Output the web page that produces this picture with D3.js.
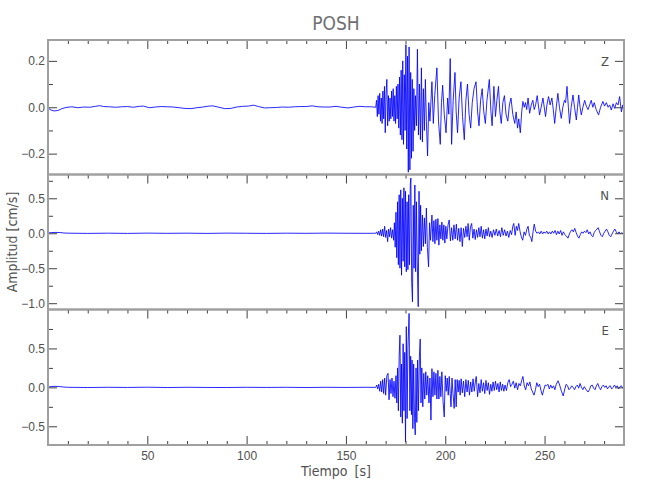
<!DOCTYPE html>
<html>
<head>
<meta charset="utf-8">
<script src="https://cdn.jsdelivr.net/npm/d3@7"></script>
<style>
  body { margin: 0; background: #fff; }
  svg { display: block; font-family: "Liberation Sans Narrow", "DejaVu Sans Condensed", "Roboto Condensed", sans-serif; }
</style>
</head>
<body>
<svg id="chart" width="650" height="500"></svg>
<script>
const station = "POSH";
const components = ["Z", "N", "E"];
const yDomains = [[-0.29, 0.29], [-1.09, 0.84], [-0.74, 1.0]];
const yMajor = [[-0.2, 0, 0.2], [-1.0, -0.5, 0, 0.5], [-0.5, 0, 0.5]];
const yMinor = [[-0.1, 0.1], [-0.75, -0.25, 0.25, 0.75], [-0.25, 0.25, 0.75]];
const xMajor = [50, 100, 150, 200, 250];
const xMinor = [10, 20, 30, 40, 60, 70, 80, 90, 110, 120, 130, 140, 160, 170, 180, 190, 210, 220, 230, 240, 260, 270, 280];

// [tiempo s, amplitud cm/s]
const zTrace = [
  [0,-0.003],[1.5,-0.012],[3,-0.016],[5,-0.014],[7,-0.006],[9,-0.001],[12,0.002],[15,-0.002],[18,0.001],[21,0],[24,0.004],[26,0.007],
  [28,0.003],[31,0.002],[34,0],[37,0.002],[40,0.003],[43,0],[46,0.004],[48,0.005],[51,-0.002],[54,0.001],[57,0.003],[60,0.002],
  [63,0.001],[66,-0.002],[69,-0.005],[72,-0.006],[75,-0.002],[78,0.001],[81,0.005],[83,0.006],[86,0],[89,-0.006],[92,-0.005],
  [95,0.001],[98,0.004],[101,0.005],[103.5,0.009],[106,0.003],[109,-0.003],[112,-0.002],[115,-0.001],[118,0.001],[121,0],
  [124,0.002],[127,0.003],[130,0.003],[133,0.006],[136,0.002],[139,0.001],[142,0.001],[145,0.004],[148,0],[151,-0.003],
  [154,0.001],[157,0.004],[160,0.002],[163,0.002],[164.6,0],
  [165.0,0.00],[165.4,0.03],[165.8,-0.04],[166.2,0.05],[166.6,-0.03],[167.0,0.06],[167.4,-0.06],[167.8,0.04],[168.2,-0.07],
  [168.6,0.07],[169.0,-0.05],[169.4,0.09],[169.8,-0.11],[170.2,0.06],[170.6,0.12],[171.0,-0.08],[171.4,0.05],[171.8,-0.06],
  [172.2,0.04],[172.6,-0.05],[173.0,0.07],[173.4,-0.04],[173.8,0.08],[174.2,-0.06],[174.6,0.05],[175.0,-0.07],[175.4,0.09],
  [175.8,-0.05],[176.2,0.10],[176.6,-0.09],[177.0,0.13],[177.4,-0.12],[177.8,0.16],[178.2,-0.14],[178.6,0.20],[179.0,-0.16],
  [179.4,0.14],[179.8,-0.10],[180.2,0.27],[180.6,-0.18],[181.0,0.22],[181.4,-0.28],[181.8,0.26],[182.2,-0.27],[182.6,0.15],
  [183.0,-0.22],[183.4,0.12],[183.8,-0.19],[184.2,0.08],[184.6,-0.10],[185.0,0.05],[185.5,-0.08],[186.0,0.25],[186.5,-0.12],
  [187.0,0.10],[187.5,-0.14],[188.0,0.17],[188.5,-0.15],[189.0,0.08],[189.5,-0.10],[190.0,0.12],[190.5,-0.06],[191.1,-0.21],
  [191.7,0.02],[192.3,-0.06],[193.3,0.11],[194.0,-0.07],[194.7,0.05],[195.8,0.17],[196.6,-0.06],[197.5,-0.16],[198.1,0.02],
  [198.7,0.095],[199.5,-0.03],[200.4,-0.11],[201.2,0.04],[201.8,-0.03],[202.5,0.21],[203.2,-0.16],[204.0,0.03],[204.9,0.15],
  [205.5,-0.02],[206.2,-0.11],[207.0,0.04],[207.9,0.11],[208.7,-0.04],[209.6,-0.14],[210.4,0.03],[211.2,0.10],[212.0,-0.03],
  [212.8,-0.09],[213.6,0.02],[214.5,0.08],[215.5,0.11],[216.3,-0.02],[217.0,-0.08],[217.8,0.03],[218.6,0.08],[219.4,-0.02],
  [220.2,-0.07],[221.0,0.03],[222.2,0.12],[223.0,-0.02],[223.6,-0.08],[224.5,0.09],[225.3,-0.04],[226.0,0.03],[226.8,0.09],
  [227.5,-0.02],[228.2,-0.07],[229.0,0.02],[229.8,0.05],[230.6,-0.03],[231.5,-0.06],[232.3,0.01],[233.1,0.04],[234.0,-0.03],
  [235.0,-0.07],[235.7,-0.02],[236.4,-0.09],[237.0,-0.05],[237.8,-0.11],
  [238.5,-0.02],[239.1,0.025],[239.8,0.0],[240.4,0.02],[241.0,-0.01],[241.7,0.04],[242.5,-0.026],[243.3,0.01],[244.1,0.03],
  [244.8,-0.01],[245.5,0.01],[246.3,0.05],[247.5,-0.033],[248.3,0.0],[249.2,0.04],[250.5,-0.04],[251.2,0.01],[252.0,0.046],
  [252.8,0.01],[253.7,0.04],[254.4,-0.01],[255.1,-0.07],[255.9,0.0],[256.7,0.06],[257.5,0.0],[258.4,-0.048],[259.2,0.0],
  [260.0,0.03],[260.6,0.02],[261.3,0.09],[262.0,0.0],[262.6,-0.07],[263.4,0.0],[264.3,0.053],[265.1,0.0],[266.0,-0.055],
  [266.6,0.0],[267.2,0.053],[267.9,0.0],[268.5,-0.033],[269.3,0.0],[270.2,0.03],[271.0,0.005],[271.9,-0.01],[272.7,0.01],
  [273.5,0.03],[274.3,0.0],[275.0,0.02],[276.0,-0.01],[277.2,-0.033],[278.2,0.0],[279.4,0.025],[280.2,0.005],[281.1,0.02],
  [282.0,0.0],[282.8,0.01],[283.6,-0.012],[284.5,0.015],[285.3,-0.005],[286.2,0.02],[287.0,0.01],[287.8,0.046],[288.7,-0.02],
  [289.4,0.01],[290.0,0.0]
];

const nTrace = [
  [0,0.004],[2,0.010],[4,0.012],[6,0.010],[8,0.004],[10,0.001],[20,-0.002],[30,0.001],[40,-0.002],[50,0.002],[60,-0.001],
  [70,0.001],[80,-0.002],[90,0.002],[100,0],[110,-0.002],[120,0.001],[130,-0.001],[140,0.002],[150,0],[160,-0.001],[164.6,0],
  [165.0,0.00],[165.5,0.02],[166.0,-0.02],[166.5,0.03],[167.0,-0.03],[167.5,0.05],[168.0,-0.04],[168.5,0.06],[169.0,-0.05],
  [169.5,0.10],[170.0,-0.06],[170.5,0.04],[171.0,-0.12],[171.5,0.06],[172.0,-0.05],[172.5,0.08],[173.0,-0.07],[173.5,0.05],
  [174.0,-0.10],[174.4,0.15],[174.8,-0.20],[175.2,0.30],[175.6,-0.35],[176.0,0.45],[176.4,-0.45],[176.8,0.55],[177.2,-0.50],
  [177.6,0.62],[178.0,-0.60],[178.4,0.50],[178.8,-0.40],[179.2,0.65],[179.6,-0.48],[180.0,0.60],[180.4,-0.55],[180.8,0.45],
  [181.2,-0.52],[181.6,0.55],[182.0,-0.45],[182.4,0.70],[182.7,0.79],[183.1,-0.70],[183.5,-0.98],[183.9,0.40],[184.3,-0.50],
  [184.7,0.69],[185.1,-0.55],[185.5,0.45],[185.9,-0.40],[186.4,-1.05],[186.8,0.60],[187.2,-0.30],[187.6,0.40],[188.0,-0.25],
  [188.5,0.26],[189.0,-0.19],[189.5,0.22],[190.0,-0.15],[190.5,0.36],[191.0,-0.20],[191.6,-0.48],[192.1,0.15],[192.6,-0.10],
  [193.3,0.26],[193.8,-0.12],[194.3,0.18],[194.8,-0.15],[195.3,0.20],[195.8,-0.10],[196.3,0.21],[196.8,-0.17],[197.3,0.12],
  [197.8,-0.08],[198.3,0.16],[198.8,-0.10],[199.3,0.12],[199.8,-0.14],[200.3,0.10],[200.8,-0.08],[201.4,0.12],[202.0,0.19],
  [202.6,-0.11],[203.2,0.08],[203.8,-0.10],[204.4,0.12],[205.0,-0.08],[205.6,0.13],[206.2,-0.10],[206.8,0.07],[207.4,-0.12],
  [208.0,0.08],[208.6,-0.19],[209.2,0.07],[209.8,-0.06],[210.4,0.10],[211.0,-0.05],[211.5,0.14],[212.1,-0.10],[212.7,0.09],
  [213.3,0.14],[213.9,-0.07],[214.5,0.06],[215.1,-0.09],[215.7,0.05],[216.3,-0.06],[216.9,0.08],[217.5,-0.05],[218.1,0.10],
  [218.7,-0.07],[219.3,0.05],[219.9,-0.08],[220.5,0.06],[221.1,-0.04],[221.7,0.08],[222.3,-0.05],[222.9,0.03],[223.6,-0.06],
  [224.3,0.05],[225.0,-0.03],[225.7,0.06],[226.4,-0.04],[227.1,0.04],[227.8,-0.05],[228.5,0.08],[229.2,-0.03],[229.9,0.05],
  [230.6,-0.04],[231.3,0.03],[232.0,-0.06],[232.7,0.04],[233.4,-0.02],[234.0,0.10],[234.5,0.14],[235.2,-0.03],[235.8,0.10],
  [236.4,0.04],[237.0,0.14],[237.7,0.02],[238.3,-0.05],[239.0,-0.10],[239.7,0.02],[240.4,-0.03],[241.0,0.05],[241.7,0.10],
  [242.4,-0.04],[243.0,-0.05],[243.6,-0.12],[244.2,0.02],[244.8,0.13],[245.5,0.03],[246.2,0.00],[246.9,0.02],[247.6,-0.01],
  [248.3,0.03],[249.0,-0.01],[249.7,0.02],[250.4,0.00],[251.1,0.03],[251.8,-0.01],[252.5,0.02],[253.2,-0.01],[253.9,0.03],
  [254.6,0.00],[255.3,0.04],[256.0,-0.02],[256.7,0.03],[257.4,-0.01],[258.1,0.04],[258.8,-0.03],[259.5,0.02],[260.2,-0.02],
  [261.0,-0.04],[261.8,-0.07],[262.5,-0.01],[263.2,0.03],[263.8,0.05],[264.5,0.02],[265.2,0.07],[265.9,0.01],[266.6,-0.04],
  [267.3,-0.07],[268.0,-0.02],[268.7,0.02],[269.4,0.00],[270.1,0.03],[270.8,0.01],[271.5,0.05],[272.2,-0.01],[272.9,0.02],
  [273.6,-0.03],[274.3,-0.05],[275.0,0.01],[275.7,0.04],[276.4,0.06],[277.0,0.08],[277.7,0.02],[278.4,-0.03],[279.1,-0.05],
  [279.8,0.00],[280.5,0.03],[281.2,0.06],[281.9,0.02],[282.6,-0.03],[283.3,-0.05],[284.0,-0.01],[284.7,0.03],[285.4,0.06],
  [286.1,0.02],[286.8,-0.01],[287.5,0.02],[288.2,-0.01],[288.9,0.01],[289.6,-0.01],[290.0,0.00]
];

const eTrace = [
  [0,0.004],[2,0.012],[4,0.013],[6,0.010],[8,0.004],[10,0.001],[20,-0.002],[30,0.001],[40,-0.001],[50,0.002],[60,-0.002],
  [70,0.001],[80,-0.001],[90,-0.002],[100,0.001],[110,-0.001],[120,0.001],[130,-0.002],[140,0.001],[150,-0.001],[160,0.001],[164.6,0],
  [165.0,0.00],[165.5,0.03],[166.0,-0.02],[166.5,0.04],[167.0,-0.05],[167.5,0.08],[168.0,-0.06],[168.5,0.10],[169.0,-0.08],
  [169.5,0.12],[170.0,-0.10],[170.6,0.15],[171.2,0.18],[171.7,-0.16],[172.2,0.10],[172.7,-0.08],[173.2,0.12],[173.7,-0.12],
  [174.2,0.08],[174.7,-0.14],[175.2,0.15],[175.6,-0.20],[176.0,0.25],[176.4,-0.30],[176.8,0.40],[177.2,0.67],[177.6,-0.38],
  [178.0,0.30],[178.4,-0.46],[178.8,0.56],[179.2,-0.30],[179.6,0.45],[180.0,-0.70],[180.4,0.78],[180.8,-0.40],[181.2,0.50],
  [181.8,0.95],[182.2,-0.30],[182.6,0.40],[183.0,-0.35],[183.3,0.35],[183.7,-0.53],[184.1,0.30],[184.5,-0.40],[184.9,-0.61],
  [185.3,0.25],[185.7,-0.45],[186.1,0.35],[186.5,-0.30],[187.0,0.40],[187.4,0.62],[187.8,-0.20],[188.2,0.25],[188.7,-0.25],
  [189.2,0.18],[189.7,-0.15],[190.2,0.20],[190.7,-0.10],[191.2,0.15],[191.8,-0.20],[192.3,0.12],[192.8,-0.42],[193.3,0.24],
  [193.8,-0.12],[194.3,0.20],[194.8,-0.10],[195.3,0.18],[195.8,-0.15],[196.3,0.22],[196.8,-0.15],[197.3,0.14],[197.8,-0.12],
  [198.3,0.20],[198.9,-0.18],[199.5,-0.38],[200.0,0.15],[200.5,-0.05],[201.0,0.12],[201.5,-0.10],[202.0,0.14],[202.5,-0.08],
  [202.9,-0.25],[203.4,0.12],[203.9,-0.08],[204.5,-0.27],[205.0,0.10],[205.5,-0.25],[206.0,0.10],[206.5,-0.06],[207.0,0.09],
  [207.5,-0.10],[208.0,0.11],[208.6,-0.07],[209.2,0.08],[209.8,-0.12],[210.4,0.10],[211.0,-0.06],[211.6,0.09],[212.2,-0.10],
  [212.8,0.07],[213.4,-0.06],[214.0,0.11],[214.6,-0.05],[215.2,0.08],[215.6,0.14],[216.3,-0.12],[216.9,0.05],[217.5,-0.07],
  [218.1,0.10],[218.7,-0.05],[219.3,0.06],[219.9,-0.08],[220.5,0.09],[221.1,-0.04],[221.7,0.06],[222.3,-0.09],[222.9,0.04],
  [223.5,-0.05],[224.1,0.07],[224.7,-0.04],[225.3,0.08],[225.9,-0.03],[226.5,0.05],[227.1,-0.06],[227.7,0.07],[228.3,-0.04],
  [228.9,0.04],[229.5,-0.05],[230.1,0.03],[230.8,-0.04],[231.5,0.06],[232.2,0.10],[232.9,0.01],[233.6,0.04],[234.3,0.08],
  [235.0,-0.01],[235.7,0.06],[236.4,-0.03],[237.1,0.05],[237.8,0.02],[238.5,0.09],[239.1,0.14],[239.8,0.02],[240.5,-0.03],
  [241.2,0.06],[241.9,0.02],[242.6,0.07],[243.3,-0.02],[244.0,-0.06],[244.7,-0.10],[245.4,-0.03],[246.1,0.06],[246.8,0.01],
  [247.5,0.04],[248.2,-0.04],[248.9,-0.10],[249.6,-0.03],[250.3,0.03],[251.0,0.02],[251.7,0.04],[252.4,-0.02],[253.1,0.03],
  [253.8,-0.01],[254.5,0.02],[255.2,-0.03],[255.9,0.04],[256.8,0.085],[257.6,0.03],[258.5,-0.05],[259.4,-0.11],[260.2,-0.02],
  [260.9,0.04],[261.6,0.02],[262.3,-0.03],[263.0,-0.01],[263.7,0.02],[264.4,0.00],[265.1,-0.03],[265.8,0.01],[266.5,0.03],
  [267.2,-0.01],[267.9,0.05],[268.6,0.00],[269.3,-0.03],[270.0,0.01],[270.7,-0.02],[271.9,-0.06],[272.6,-0.03],[273.3,0.02],
  [274.0,0.03],[274.7,-0.01],[275.4,-0.03],[276.1,0.02],[276.8,0.05],[277.5,0.00],[278.2,-0.03],[278.9,0.01],[279.6,0.03],
  [280.3,0.00],[281.0,0.02],[281.7,-0.02],[282.4,0.01],[283.1,0.02],[283.8,-0.02],[284.5,0.00],[285.2,0.03],[285.9,0.00],
  [286.6,0.02],[287.3,-0.02],[288.0,0.01],[288.7,0.02],[289.4,-0.01],[290.0,0.00]
];
const traces = [zTrace, nTrace, eTrace];

const svg = d3.select("#chart");
const left = 48, right = 624;
const edges = [40, 174.5, 309.5, 445];
const frameColor = "#a0a0a0";
const textColor = "#505050";

const x = d3.scaleLinear().domain([0, 290]).range([left, right]);

svg.append("text")
  .attr("x", 336).attr("y", 30)
  .attr("text-anchor", "middle")
  .style("font-size", "19px")
  .style("fill", "#707070")
  .text(station);

components.forEach((comp, i) => {
  const top = edges[i], bottom = edges[i + 1];
  const y = d3.scaleLinear().domain(yDomains[i]).range([bottom, top]);
  const g = svg.append("g");

  g.append("clipPath").attr("id", "clip" + i)
    .append("rect")
    .attr("x", left).attr("y", top)
    .attr("width", right - left).attr("height", bottom - top);

  const line = d3.line().x(d => x(d[0])).y(d => y(d[1]));
  g.append("path")
    .datum(traces[i])
    .attr("clip-path", `url(#clip${i})`)
    .attr("fill", "none")
    .attr("stroke", "#0000ff")
    .attr("stroke-width", 0.85)
    .attr("stroke-linejoin", "round")
    .attr("d", line);

  // y ticks, inward on both sides
  const yAxes = [
    d3.axisLeft(y).tickValues(yMajor[i]).tickSize(-9).tickPadding(3).tickFormat(d3.format(".1f")),
    d3.axisLeft(y).tickValues(yMinor[i]).tickSize(-5).tickFormat(""),
  ];
  yAxes.forEach(ax => {
    const a = g.append("g").attr("transform", `translate(${left},0)`).call(ax);
    a.select(".domain").remove();
  });
  [d3.axisRight(y).tickValues(yMajor[i]).tickSize(-9).tickFormat(""),
   d3.axisRight(y).tickValues(yMinor[i]).tickSize(-5).tickFormat("")].forEach(ax => {
    const a = g.append("g").attr("transform", `translate(${right},0)`).call(ax);
    a.select(".domain").remove();
  });

  // x ticks along the top of each panel
  [d3.axisTop(x).tickValues(xMajor).tickSize(-9).tickFormat(""),
   d3.axisTop(x).tickValues(xMinor).tickSize(-4).tickFormat("")].forEach(ax => {
    const a = g.append("g").attr("transform", `translate(0,${top})`).call(ax);
    a.select(".domain").remove();
  });

  if (i === components.length - 1) {
    [d3.axisBottom(x).tickValues(xMajor).tickSize(-9).tickPadding(6),
     d3.axisBottom(x).tickValues(xMinor).tickSize(-4).tickFormat("")].forEach(ax => {
      const a = g.append("g").attr("transform", `translate(0,${bottom})`).call(ax);
      a.select(".domain").remove();
    });
  }

  g.selectAll(".tick line").attr("stroke", "#404040");
  g.selectAll(".tick text").style("font-size", "12px").style("fill", textColor).style("font-family", null);

  g.append("rect")
    .attr("x", left).attr("y", top)
    .attr("width", right - left).attr("height", bottom - top)
    .attr("fill", "none")
    .attr("stroke", frameColor)
    .attr("stroke-width", 2);

  g.append("text")
    .attr("x", 609).attr("y", top + 21)
    .attr("dy", "0.35em")
    .attr("text-anchor", "end")
    .style("font-size", "13px")
    .style("fill", textColor)
    .text(comp);
});

svg.append("text")
  .attr("x", 336).attr("y", 476)
  .attr("text-anchor", "middle")
  .style("font-size", "14px")
  .style("fill", textColor)
  .style("word-spacing", "3px")
  .text("Tiempo [s]");

svg.append("text")
  .attr("transform", "translate(17,242) rotate(-90)")
  .attr("text-anchor", "middle")
  .style("font-size", "14px")
  .style("fill", textColor)
  .text("Amplitud [cm/s]");
</script>
</body>
</html>
